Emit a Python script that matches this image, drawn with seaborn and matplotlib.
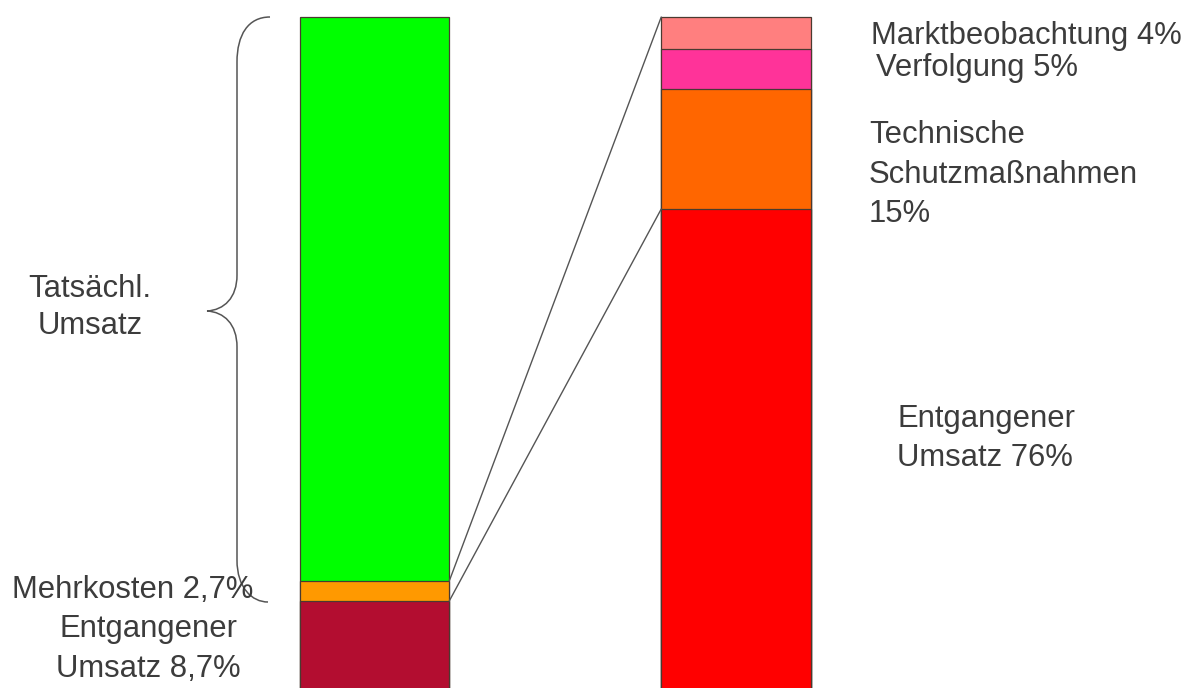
import matplotlib
matplotlib.use("Agg")
import matplotlib.pyplot as plt
import seaborn as sns
import pandas as pd
import numpy as np
from matplotlib.path import Path
from matplotlib.patches import PathPatch
from matplotlib.transforms import Affine2D

# ---- data (segment heights, bottom to top) ----
bars = ["Gesamt", "Entgangen"]
left_segments = ["Entgangener Umsatz", "Mehrkosten", "Tatsächl. Umsatz"]
left_values = [27.0, 2.5, 70.5]
left_colors = ["#B30D30", "#FF9900", "#00FF00"]
right_segments = ["Entgangener Umsatz", "Technische Schutzmaßnahmen", "Verfolgung", "Marktbeobachtung"]
right_values = [76.0, 15.0, 5.0, 4.0]
right_colors = ["#FF0000", "#FF6600", "#FF3399", "#FF7F7F"]

label_lines_right = [
    ("Marktbeobachtung 4%", 871, 44, "left"),
    ("Verfolgung 5%", 876, 76, "left"),
    ("Technische", 869, 143, "left"),
    ("Schutzmaßnahmen", 869, 183, "left"),
    ("15%", 869, 222, "left"),
    ("Entgangener", 897, 427, "left"),
    ("Umsatz 76%", 897, 466, "left"),
]
label_lines_left = [
    ("Tatsächl.", 90, 297, "center"),
    ("Umsatz", 90, 334, "center"),
    ("Mehrkosten 2,7%", 12, 598, "left"),
    ("Entgangener", 148, 637, "center"),
    ("Umsatz 8,7%", 148, 677, "center"),
]

W, H, DPI = 1200, 688, 100
sns.set_style("white")
plt.rcParams["font.family"] = ["Liberation Sans", "DejaVu Sans"]

fig = plt.figure(figsize=(W / DPI, H / DPI), dpi=DPI)
ax = fig.add_axes([0, 0, 1, 1])

bar_width = 0.4136
edge = "#4a3a30"

def draw_stack(cat, values, colors):
    cums = np.cumsum(values)
    # draw from the tallest cumulative down so lower segments overlay
    for cum, col in zip(cums[::-1], colors[::-1]):
        df = pd.DataFrame({"bar": [cat], "value": [cum]})
        sns.barplot(data=df, x="bar", y="value", order=bars, color=col,
                    width=bar_width, edgecolor=edge, linewidth=0.9,
                    saturation=1, ax=ax, errorbar=None)
    return cums

lc = draw_stack(bars[0], left_values, left_colors)
rc = draw_stack(bars[1], right_values, right_colors)

# connector lines: from the "Mehrkosten" segment of the left bar to the right bar
x_l = 0 + bar_width / 2
x_r = 1 - bar_width / 2
ax.plot([x_l, x_r], [lc[1], rc[-1]], color="#555555", lw=1.0, zorder=5)
ax.plot([x_l, x_r], [lc[0], rc[0]], color="#555555", lw=1.0, zorder=5)

ax.set_xlim(-1.036, 2.2836)
ax.set_ylim(16.125, 102.125)
ax.axis("off")

# pixel transform (origin top-left)
pix = Affine2D().scale(1 / W, -1 / H).translate(0, 1) + fig.transFigure

# curly brace
verts = [
    (270, 17), (248, 17), (237, 35), (237, 62),
    (237, 275),
    (237, 298), (224, 310), (207, 311),
    (224, 312), (237, 324), (237, 347),
    (237, 560),
    (237, 588), (252, 602), (268, 602),
]
codes = [Path.MOVETO, Path.CURVE4, Path.CURVE4, Path.CURVE4,
         Path.LINETO,
         Path.CURVE4, Path.CURVE4, Path.CURVE4,
         Path.CURVE4, Path.CURVE4, Path.CURVE4,
         Path.LINETO,
         Path.CURVE4, Path.CURVE4, Path.CURVE4]
brace = PathPatch(Path(verts, codes), facecolor="none", edgecolor="#555555",
                  lw=1.1, transform=pix)
fig.patches.append(brace)

txt_color = "#3c3c3c"
fs = 22.3
for s, x, y, ha in label_lines_right + label_lines_left:
    fig.text(x, y, s, transform=pix, ha=ha, va="baseline", fontsize=fs,
             color=txt_color)

fig.savefig("out.png", dpi=DPI, facecolor="white")
